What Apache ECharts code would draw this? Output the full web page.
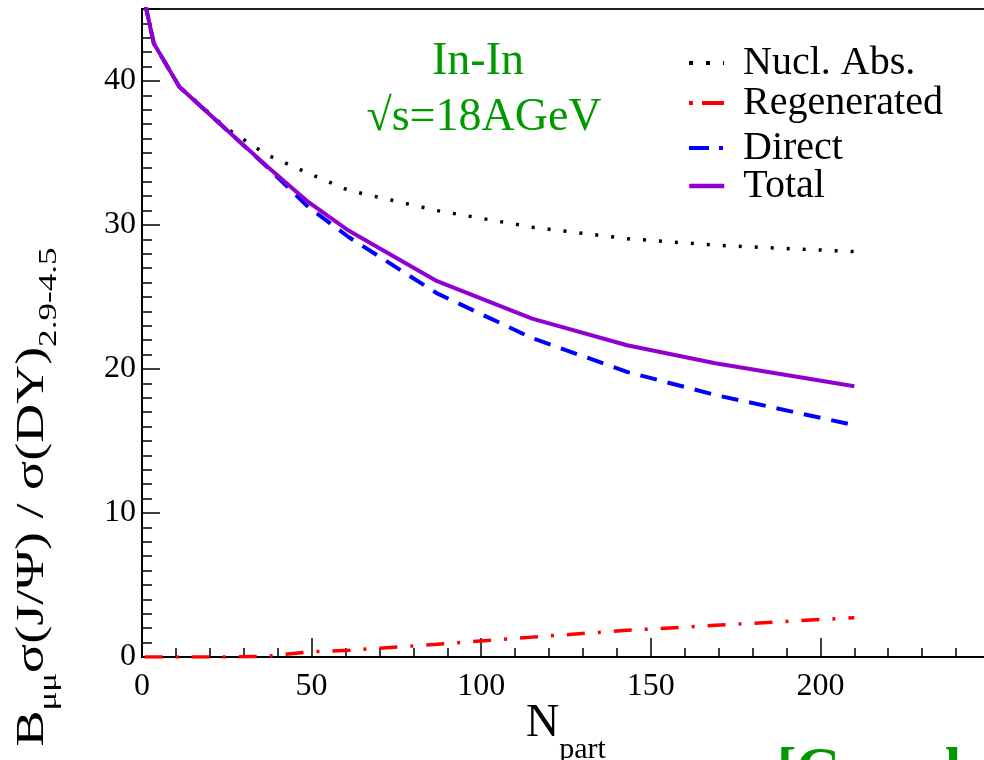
<!DOCTYPE html>
<html>
<head>
<meta charset="utf-8">
<script src="https://cdn.jsdelivr.net/npm/echarts@6/dist/echarts.min.js"></script>
<style>html,body{margin:0;padding:0;background:#fff;}#c{width:984px;height:760px;}</style>
</head>
<body>
<div id="c"></div>
<script>
// N_part values (x) and curves (y)
const nPart       = [0.8, 3.5, 11, 25, 37, 49, 61, 87, 115, 143, 169, 210];
const nuclAbs     = [45.5, 42.6, 39.6, 36.7, 34.85, 33.6, 32.4, 31.0, 29.85, 29.05, 28.6, 28.15];
const regenerated = [0, 0, 0, 0, 0.05, 0.35, 0.47, 0.88, 1.38, 1.85, 2.2, 2.73];
const direct      = [45.5, 42.6, 39.6, 36.6, 34.0, 31.25, 29.15, 25.25, 22.15, 19.8, 18.2, 16.1];
const total       = [45.5, 42.6, 39.6, 36.6, 34.05, 31.6, 29.6, 26.1, 23.5, 21.65, 20.4, 18.8];
const seriesNames = ['Nucl. Abs.', 'Regenerated', 'Direct', 'Total'];
const xTicks = [0, 50, 100, 150, 200];
const yTicks = [0, 10, 20, 30, 40];

const FONT = '"Liberation Serif", "Times New Roman", serif';
const pts = ys => nPart.map((x, i) => [x, ys[i]]);

const chart = echarts.init(document.getElementById('c'), null, {renderer: 'canvas'});

const legendBase = (name, top, lineType, width) => ({
  data: [name], orient: 'vertical', left: 687, top: top, padding: 0,
  itemWidth: 35, itemHeight: 20, selectedMode: false,
  lineStyle: {type: lineType, width: width},
  itemStyle: {opacity: 0},
  textStyle: {fontFamily: FONT, fontSize: 40, color: '#000', padding: [0, 0, 0, 14]}
});

chart.setOption({
  animation: false,
  backgroundColor: '#fff',
  grid: {left: 142, top: 9, right: -6, bottom: 103, outerBoundsMode: 'none', containLabel: false,
    show: true, borderColor: '#222', borderWidth: 2},
  legend: [
    legendBase(seriesNames[0], 43, [4, 13], 4),
    legendBase(seriesNames[1], 83, [4, 9, 22, 0], 4),
    legendBase(seriesNames[2], 128, [20, 10, 4, 10], 4),
    legendBase(seriesNames[3], 166, 'solid', 4.5)
  ],
  xAxis: {
    type: 'value', min: 0, max: 250, interval: 50,
    axisLine: {lineStyle: {color: '#000', width: 2}},
    axisTick: {inside: true, length: 19, lineStyle: {color: '#000', width: 1.5}},
    minorTick: {show: true, splitNumber: 5, length: 9, lineStyle: {color: '#000', width: 1.5}},
    splitLine: {show: false},
    axisLabel: {fontFamily: FONT, fontSize: 32, color: '#000', margin: 14,
      formatter: v => xTicks.includes(v) ? String(v) : ''},
    name: '{n|N}{s|part}', nameLocation: 'middle', nameGap: 44, nameMoveOverlap: false,
    nameTextStyle: {fontFamily: FONT, color: '#000', rich: {
      n: {fontFamily: FONT, fontSize: 46, lineHeight: 46, verticalAlign: 'top', color: '#000'},
      s: {fontFamily: FONT, fontSize: 30, lineHeight: 30, padding: [34, 0, 0, 0], verticalAlign: 'top', color: '#000'}
    }}
  },
  yAxis: [{
    type: 'value', min: 0, max: 45, interval: 10,
    axisLine: {lineStyle: {color: '#000', width: 2}},
    axisTick: {inside: true, length: 18, lineStyle: {color: '#000', width: 1.5}},
    splitLine: {show: false},
    axisLabel: {fontFamily: FONT, fontSize: 32, color: '#000', margin: 6,
      formatter: v => yTicks.includes(v) ? String(v) : ''}
  }, {
    type: 'value', min: 0, max: 45, interval: 1, position: 'left',
    axisLine: {show: false},
    axisTick: {inside: true, length: 10, lineStyle: {color: '#000', width: 1.5}},
    splitLine: {show: false},
    axisLabel: {show: false}
  }],
  series: [
    {name: seriesNames[0], type: 'line', data: pts(nuclAbs), symbol: 'none', z: 3,
      lineStyle: {color: '#000', width: 3.5, type: [3, 13]}, itemStyle: {color: '#000'}},
    {name: seriesNames[1], type: 'line', data: pts(regenerated), symbol: 'none', z: 4,
      lineStyle: {color: '#ff0000', width: 3.5, type: [18, 13, 3, 13]}, itemStyle: {color: '#ff0000'}},
    {name: seriesNames[2], type: 'line', data: pts(direct), symbol: 'none', z: 5,
      lineStyle: {color: '#0000ff', width: 4, type: [17, 11]}, itemStyle: {color: '#0000ff'}},
    {name: seriesNames[3], type: 'line', data: pts(total), symbol: 'none', z: 6,
      lineStyle: {color: '#9000d0', width: 4}, itemStyle: {color: '#9000d0'}}
  ],
  graphic: [
    {type: 'text', x: 478, y: 62, z: 10, style: {text: 'In-In', font: '46px ' + FONT, fill: '#009900', align: 'center', verticalAlign: 'middle'}},
    {type: 'text', x: 484, y: 118, z: 10, style: {text: '√s=18AGeV', font: '46px ' + FONT, fill: '#009900', align: 'center', verticalAlign: 'middle'}},
    {type: 'text', x: 777, y: 743, z: 10, style: {text: '[Grandchamp et al.]', font: 'bold 58px ' + FONT, fill: '#009900', align: 'left', verticalAlign: 'top'}},
    {type: 'text', x: 32, y: 497, rotation: Math.PI / 2, scaleX: 1.35, z: 10, style: {
      text: '{b|B}{s|μμ}{b|σ(J/Ψ) / σ(DY)}{s|2.9-4.5}', align: 'center', verticalAlign: 'middle',
      rich: {
        b: {fontFamily: FONT, fontSize: 40, lineHeight: 40, verticalAlign: 'top', fill: '#000'},
        s: {fontFamily: FONT, fontSize: 26, lineHeight: 26, padding: [24, 0, 0, 0], verticalAlign: 'top', fill: '#000'}
      }
    }}
  ]
});
</script>
</body>
</html>
